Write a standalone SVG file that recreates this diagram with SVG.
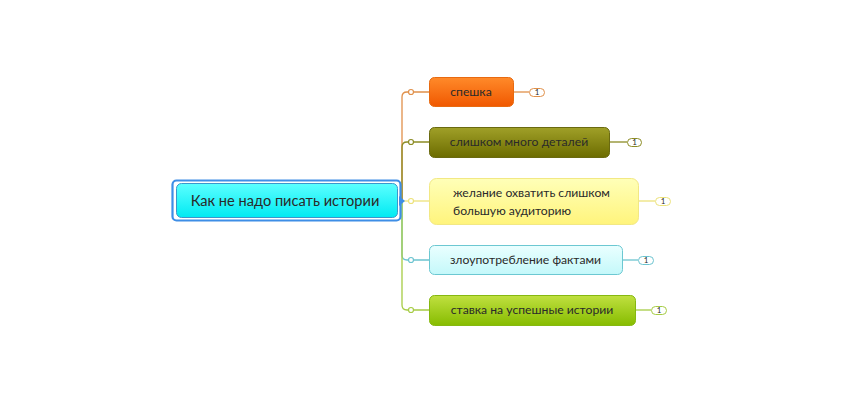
<svg xmlns="http://www.w3.org/2000/svg" width="850" height="400" viewBox="0 0 850 400">
<defs>
<linearGradient id="gOrange" x1="0" y1="0" x2="0" y2="1"><stop offset="0" stop-color="#ff8a2a"/><stop offset="1" stop-color="#f05800"/></linearGradient>
<linearGradient id="gOlive" x1="0" y1="0" x2="0" y2="1"><stop offset="0" stop-color="#a0a028"/><stop offset="1" stop-color="#6c6c00"/></linearGradient>
<linearGradient id="gYellow" x1="0" y1="0" x2="0" y2="1"><stop offset="0" stop-color="#ffffb8"/><stop offset="1" stop-color="#fff47c"/></linearGradient>
<linearGradient id="gCyan" x1="0" y1="0" x2="0" y2="1"><stop offset="0" stop-color="#eaffff"/><stop offset="1" stop-color="#c4f8fa"/></linearGradient>
<linearGradient id="gGreen" x1="0" y1="0" x2="0" y2="1"><stop offset="0" stop-color="#c0e040"/><stop offset="1" stop-color="#86bc00"/></linearGradient>
<linearGradient id="gCentral" x1="0" y1="0" x2="0" y2="1"><stop offset="0" stop-color="#5cffff"/><stop offset="1" stop-color="#00eaf2"/></linearGradient>
</defs>
<style>
text{font-family:Lato,"Open Sans","Liberation Sans",sans-serif;fill:#2a2a2a}
.lbl{font-size:12.2px}
.badge text{font-size:8px;text-anchor:middle}
.conn path{fill:none;stroke-width:1.3}
.dot{fill:#fff;stroke-width:1.2}
</style>
<rect width="850" height="400" fill="#fff"/>
<g id="connectors" class="conn">
<path d="M402 201 V97 Q402 92 407 92 H429" stroke="#e0904a"/>
<path d="M402 201 V147 Q402 142 407 142 H429" stroke="#8c8c24"/>
<path d="M402 201 H429" stroke="#ece27a"/>
<path d="M402 201 V255 Q402 260 407 260 H429" stroke="#6cc4d0"/>
<path d="M402 201 V305 Q402 310 407 310 H429" stroke="#a6cc44"/>
<circle class="dot" cx="411" cy="92" r="2.5" stroke="#e0904a"/>
<circle class="dot" cx="411" cy="142" r="2.5" stroke="#8c8c24"/>
<circle class="dot" cx="411" cy="201" r="2.5" stroke="#ece27a"/>
<circle class="dot" cx="411" cy="260" r="2.5" stroke="#6cc4d0"/>
<circle class="dot" cx="411" cy="310" r="2.5" stroke="#a6cc44"/>
<path d="M513 92 H529" stroke="#e0904a"/>
<path d="M609 142 H627" stroke="#8c8c24"/>
<path d="M638 201 H655" stroke="#ece27a"/>
<path d="M622 260 H638" stroke="#6cc4d0"/>
<path d="M635 310 H651" stroke="#a6cc44"/>
</g>
<g id="central">
<rect x="172.5" y="180.5" width="228" height="40" rx="4" fill="#fff" stroke="#3e8ee6" stroke-width="2.2"/>
<rect x="176.5" y="183.5" width="221" height="34" rx="5" fill="url(#gCentral)" stroke="#3a96cc" stroke-width="1"/>
<path d="M399 196 L405 201 L399 206 Z" fill="#3e8ee6"/>
<text x="285" y="206" font-size="14.6" text-anchor="middle" fill="#1e1e1e">Как не надо писать истории</text>
</g>
<g id="n1">
<rect x="429.5" y="77.5" width="84" height="29" rx="5" fill="url(#gOrange)" stroke="#e86a10"/>
<text class="lbl" x="471" y="96" text-anchor="middle">спешка</text>
</g>
<g id="n2">
<rect x="429.5" y="127.5" width="180" height="30" rx="5" fill="url(#gOlive)" stroke="#6a6a10"/>
<text class="lbl" x="519" y="146" text-anchor="middle">слишком много деталей</text>
</g>
<g id="n3">
<rect x="429.5" y="178.5" width="209" height="46" rx="7" fill="url(#gYellow)" stroke="#f2e884"/>
<text class="lbl" x="453" y="197">желание охватить слишком</text>
<text class="lbl" x="453" y="215">большую аудиторию</text>
</g>
<g id="n4">
<rect x="429.5" y="245.5" width="193" height="29" rx="5" fill="url(#gCyan)" stroke="#6cc8d2"/>
<text class="lbl" x="525.5" y="264" text-anchor="middle">злоупотребление фактами</text>
</g>
<g id="n5">
<rect x="429.5" y="295.5" width="206" height="30" rx="5" fill="url(#gGreen)" stroke="#86b810"/>
<text class="lbl" x="532" y="314" text-anchor="middle">ставка на успешные истории</text>
</g>
<g id="badges" class="badge">
<g id="b1"><rect x="529.5" y="88.5" width="15" height="8" rx="4" fill="#fff" stroke="#e0904a"/><text x="537" y="95.2">1</text></g>
<g id="b2"><rect x="627.5" y="138.5" width="14" height="8" rx="4" fill="#fff" stroke="#8c8c24"/><text x="634.5" y="145.2">1</text></g>
<g id="b3"><rect x="655.5" y="197.5" width="15" height="8" rx="4" fill="#fff" stroke="#ece27a"/><text x="663" y="204.2">1</text></g>
<g id="b4"><rect x="638.5" y="256.5" width="15" height="8" rx="4" fill="#fff" stroke="#6cc4d0"/><text x="646" y="263.2">1</text></g>
<g id="b5"><rect x="651.5" y="306.5" width="15" height="8" rx="4" fill="#fff" stroke="#a6cc44"/><text x="659" y="313.2">1</text></g>
</g>
</svg>
